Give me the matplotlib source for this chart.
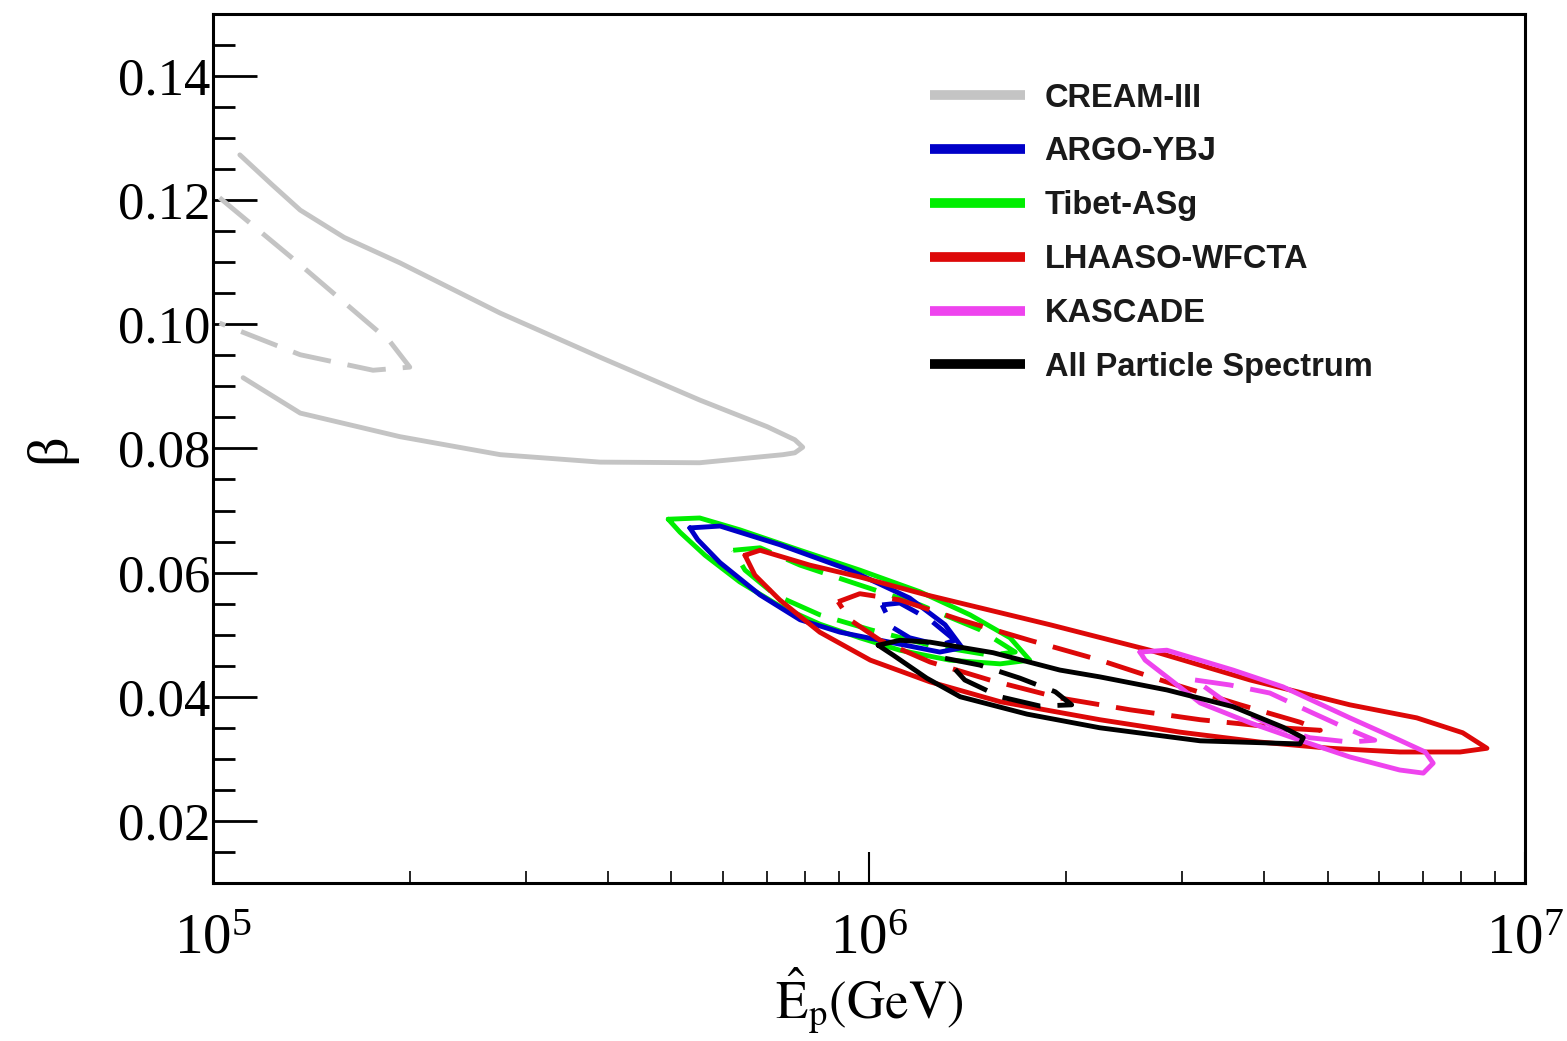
import matplotlib
matplotlib.use('Agg')
import matplotlib.pyplot as plt
from matplotlib.ticker import MultipleLocator, FormatStrFormatter, LogLocator, NullFormatter
from matplotlib.lines import Line2D

plt.rcParams['font.family'] = ['Liberation Serif', 'DejaVu Serif']
plt.rcParams['mathtext.fontset'] = 'stix'

# ---------------- data (log10 E [GeV], beta) ----------------
labels = ['CREAM-III', 'ARGO-YBJ', 'Tibet-ASg', 'LHAASO-WFCTA', 'KASCADE', 'All Particle Spectrum']
colors = ['#c4c4c4', '#0000c8', '#00ee00', '#dd0808', '#ee44ee', '#000000']

# CREAM-III (open contours)
cream_out_logE = [5.041, 5.090, 5.133, 5.200, 5.285, 5.438, 5.590, 5.742, 5.845, 5.887, 5.899, 5.887, 5.869, 5.742, 5.590, 5.438, 5.285, 5.133, 5.046]
cream_out_beta = [0.1273, 0.1225, 0.1184, 0.1140, 0.1099, 0.1018, 0.0947, 0.0878, 0.0835, 0.0814, 0.0802, 0.0793, 0.0790, 0.0777, 0.0778, 0.0790, 0.0819, 0.0857, 0.0914]
cream_in_logE = [5.010, 5.133, 5.270, 5.300, 5.244, 5.133, 5.010]
cream_in_beta = [0.1204, 0.1096, 0.0972, 0.0931, 0.0926, 0.0951, 0.1002]

# ARGO-YBJ
argo_out_logE = [5.727, 5.773, 5.864, 5.971, 6.062, 6.116, 6.142, 6.108, 6.017, 5.956, 5.895, 5.834, 5.773, 5.739]
argo_out_beta = [0.0672, 0.0675, 0.0645, 0.0604, 0.0559, 0.0516, 0.0479, 0.0472, 0.0491, 0.0504, 0.0524, 0.0564, 0.0616, 0.0653]
argo_in_logE = [6.020, 6.047, 6.093, 6.131, 6.108, 6.062, 6.037]
argo_in_beta = [0.0548, 0.0551, 0.0524, 0.0491, 0.0483, 0.0495, 0.0511]

# Tibet-ASg
tibet_out_logE = [5.694, 5.742, 5.803, 5.895, 5.986, 6.078, 6.154, 6.215, 6.245, 6.200, 6.123, 6.047, 5.986, 5.925, 5.864, 5.803, 5.750, 5.712]
tibet_out_beta = [0.0686, 0.0688, 0.0669, 0.0636, 0.0604, 0.0569, 0.0532, 0.0495, 0.0459, 0.0453, 0.0459, 0.0475, 0.0495, 0.0517, 0.0546, 0.0585, 0.0628, 0.0665]
tibet_in_logE = [5.793, 5.834, 5.895, 5.986, 6.078, 6.169, 6.223, 6.184, 6.093, 6.002, 5.925, 5.857, 5.811]
tibet_in_beta = [0.0636, 0.0640, 0.0612, 0.0580, 0.0548, 0.0508, 0.0472, 0.0467, 0.0483, 0.0508, 0.0532, 0.0564, 0.0604]

# LHAASO-WFCTA
lhaaso_out_logE = [5.811, 5.834, 5.910, 5.986, 6.088, 6.139, 6.276, 6.428, 6.581, 6.733, 6.835, 6.905, 6.942,
                   6.901, 6.809, 6.703, 6.596, 6.474, 6.352, 6.200, 6.093, 6.002, 5.925, 5.864, 5.826]
lhaaso_out_beta = [0.0628, 0.0636, 0.0612, 0.0593, 0.0564, 0.0551, 0.0516, 0.0475, 0.0427, 0.0387, 0.0366, 0.0342, 0.0317,
                   0.0311, 0.0311, 0.0317, 0.0327, 0.0343, 0.0363, 0.0392, 0.0424, 0.0459, 0.0504, 0.0556, 0.0596]
lhaaso_in_logE = [5.953, 5.986, 6.047, 6.139, 6.245, 6.352, 6.459, 6.566, 6.657, 6.688,
                  6.627, 6.505, 6.398, 6.291, 6.184, 6.093, 6.017, 5.971]
lhaaso_in_beta = [0.0553, 0.0566, 0.0556, 0.0524, 0.0491, 0.0459, 0.0422, 0.0387, 0.0359, 0.0346,
                  0.0350, 0.0363, 0.0379, 0.0398, 0.0427, 0.0456, 0.0491, 0.0524]

# KASCADE
kascade_out_logE = [6.413, 6.454, 6.555, 6.631, 6.733, 6.809, 6.848, 6.860, 6.845, 6.809, 6.733, 6.657, 6.581, 6.505, 6.454, 6.421]
kascade_out_beta = [0.0472, 0.0475, 0.0443, 0.0416, 0.0366, 0.0330, 0.0311, 0.0293, 0.0277, 0.0282, 0.0303, 0.0330, 0.0358, 0.0390, 0.0432, 0.0459]
kascade_in_logE = [6.497, 6.550, 6.611, 6.672, 6.726, 6.771, 6.733, 6.672, 6.611, 6.550]
kascade_in_beta = [0.0427, 0.0419, 0.0406, 0.0376, 0.0350, 0.0330, 0.0327, 0.0334, 0.0355, 0.0387]

# All Particle Spectrum
allp_out_logE = [6.014, 6.047, 6.093, 6.189, 6.291, 6.352, 6.454, 6.555, 6.631, 6.662, 6.657, 6.505, 6.352, 6.241, 6.139, 6.088, 6.037]
allp_out_beta = [0.0483, 0.0491, 0.0488, 0.0471, 0.0443, 0.0432, 0.0411, 0.0384, 0.0351, 0.0334, 0.0324, 0.0329, 0.0350, 0.0372, 0.0400, 0.0430, 0.0467]
allp_in_logE = [6.116, 6.169, 6.230, 6.284, 6.309, 6.261, 6.200, 6.146]
allp_in_beta = [0.0462, 0.0451, 0.0430, 0.0408, 0.0387, 0.0385, 0.0400, 0.0427]

# ---------------- figure ----------------
fig = plt.figure(figsize=(15.67, 10.41), dpi=100)
ax = fig.add_axes([0.1359, 0.1518, 0.8373, 0.8348])
ax.set_xscale('log')

LW = 3.5
DASH = (8, 3.5)


def draw(logE, beta, color, closed=True, dashed=False, label=None):
    xs = [10 ** v for v in logE]
    ys = list(beta)
    if closed:
        xs = xs + xs[:1]
        ys = ys + ys[:1]
    line, = ax.plot(xs, ys, color=color, lw=LW, label=label,
                    solid_joinstyle='round', solid_capstyle='round',
                    dash_joinstyle='round', dash_capstyle='butt')
    if dashed:
        line.set_dashes(DASH)
    return line


draw(cream_out_logE, cream_out_beta, colors[0], closed=False)
draw(cream_in_logE, cream_in_beta, colors[0], closed=False, dashed=True)

draw(tibet_out_logE, tibet_out_beta, colors[2])
draw(tibet_in_logE, tibet_in_beta, colors[2], dashed=True)
draw(argo_out_logE, argo_out_beta, colors[1])
draw(argo_in_logE, argo_in_beta, colors[1], dashed=True)
draw(lhaaso_out_logE, lhaaso_out_beta, colors[3])
draw(lhaaso_in_logE, lhaaso_in_beta, colors[3], dashed=True)
draw(kascade_out_logE, kascade_out_beta, colors[4])
draw(kascade_in_logE, kascade_in_beta, colors[4], dashed=True)
draw(allp_out_logE, allp_out_beta, colors[5])
draw(allp_in_logE, allp_in_beta, colors[5], dashed=True)

ax.set_xlim(1e5, 1e7)
ax.set_ylim(0.01, 0.15)

# ticks
ax.yaxis.set_major_locator(MultipleLocator(0.02))
ax.yaxis.set_minor_locator(MultipleLocator(0.005))
ax.yaxis.set_major_formatter(FormatStrFormatter('%.2f'))
ax.xaxis.set_major_locator(LogLocator(base=10))
ax.xaxis.set_minor_locator(LogLocator(base=10, subs=range(2, 10)))
ax.xaxis.set_minor_formatter(NullFormatter())

ax.tick_params(axis='y', which='major', direction='in', length=32, width=2.0, labelsize=38, pad=2)
ax.tick_params(axis='y', which='minor', direction='in', length=16, width=2.0)
ax.tick_params(axis='x', which='major', direction='in', length=22, width=1.5, labelsize=41, pad=22)
ax.tick_params(axis='x', which='minor', direction='in', length=9, width=1.2)
ax.tick_params(top=False, right=False, which='both')
for s in ax.spines.values():
    s.set_linewidth(2.2)

ax.set_xlabel(r'$\hat{\mathrm{E}}_{\mathrm{p}}\mathrm{(GeV)}$', fontsize=38, labelpad=0)
ax.set_ylabel('β', fontsize=42, labelpad=30)

# legend
handles = [Line2D([], [], color=c, lw=7, solid_capstyle='butt') for c in colors]
leg = ax.legend(handles, labels, loc='upper left', bbox_to_anchor=(0.5465, 0.921),
                frameon=False, borderaxespad=0, borderpad=0,
                handlelength=2.9, handletextpad=0.61, labelspacing=0.70,
                prop={'family': 'Liberation Sans', 'weight': 'bold', 'size': 23.5})
for t in leg.get_texts():
    t.set_color('#1a1a1a')

fig.savefig('out.png', dpi=100)
